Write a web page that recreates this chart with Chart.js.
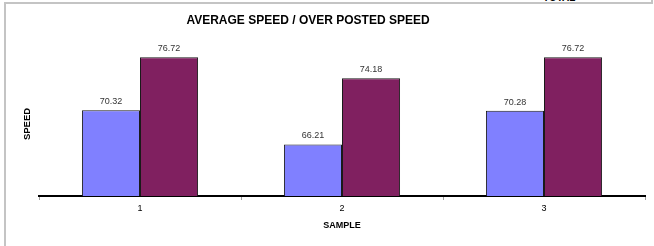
<!DOCTYPE html>
<html>
<head>
<meta charset="utf-8">
<script src="https://cdn.jsdelivr.net/npm/chart.js@4/dist/chart.umd.min.js"></script>
<style>
  html, body { margin: 0; padding: 0; background: #fff; }
  #wrap { position: relative; width: 654px; height: 246px; overflow: hidden; }
  #frame { position: absolute; left: 4px; top: 2px; width: 647px; height: 260px;
           border-top: 2px solid #c4c4c4; border-left: 2px solid #c4c4c4; }
  #rtick { position: absolute; left: 651px; top: 0; width: 2px; height: 4px; background: #c4c4c4; }
  #total { position: absolute; left: 543px; top: -7px; font: bold 10px Arial, "Liberation Sans", sans-serif;
           line-height: 10px; color: #000; }
  canvas { position: absolute; left: 0; top: 0; }
</style>
</head>
<body>
<div id="wrap">
  <div id="frame"></div>
  <div id="rtick"></div>
  <div id="total">TOTAL</div>
  <canvas id="chart" width="654" height="246"></canvas>
</div>
<script>
const chartTitle = 'AVERAGE SPEED / OVER POSTED SPEED';
const xTitle = 'SAMPLE';
const yTitle = 'SPEED';
const samples = ['1', '2', '3'];
const averageSpeed = [70.32, 66.21, 70.28];
const overPostedSpeed = [76.72, 74.18, 76.72];
const yMin = 60;
const yMax = 80;

const font = 'Arial, "Liberation Sans", sans-serif';

// titles and value labels drawn on top of the chart
const textPlugin = {
    id: 'textPlugin',
    afterDatasetsDraw(chart) {
        const ctx = chart.ctx;
        ctx.save();
        ctx.fillStyle = '#333';
        ctx.font = '9px ' + font;
        ctx.textAlign = 'center';
        ctx.textBaseline = 'alphabetic';
        chart.data.datasets.forEach((ds, i) => {
            chart.getDatasetMeta(i).data.forEach((bar, j) => {
                ctx.fillText(ds.data[j].toFixed(2), bar.x, bar.y - 6);
            });
        });

        ctx.fillStyle = '#000';
        ctx.font = 'bold 12px ' + font;
        ctx.textBaseline = 'middle';
        ctx.fillText(chartTitle, 308, 21);

        ctx.font = 'bold 9.5px ' + font;
        ctx.translate(27, 124);
        ctx.rotate(-Math.PI / 2);
        ctx.fillText(yTitle, 0, 0);
        ctx.restore();
    }
};

const ctx = document.getElementById('chart').getContext('2d');

new Chart(ctx, {
    type: 'bar',
    data: {
        labels: samples,
        datasets: [{
            label: 'Average speed',
            data: averageSpeed,
            backgroundColor: '#8080ff',
            borderColor: '#1a1a1a',
            borderWidth: 1,
            borderSkipped: 'bottom'
        }, {
            label: 'Over posted speed',
            data: overPostedSpeed,
            backgroundColor: '#802060',
            borderColor: '#1a1a1a',
            borderWidth: 1,
            borderSkipped: 'bottom'
        }]
    },
    options: {
        responsive: false,
        animation: false,
        layout: {
            padding: { left: 39, right: 9, top: 30, bottom: 0 }
        },
        plugins: {
            legend: { display: false },
            title: { display: false },
            tooltip: { enabled: false }
        },
        datasets: {
            bar: { categoryPercentage: 0.575, barPercentage: 1 }
        },
        scales: {
            x: {
                grid: {
                    offset: true,
                    drawOnChartArea: false,
                    drawTicks: true,
                    tickLength: 4,
                    color: '#a0a0a0'
                },
                border: { display: true, color: '#000', width: 2 },
                ticks: {
                    color: '#000',
                    padding: 3,
                    font: { size: 9, family: font }
                },
                title: {
                    display: true,
                    text: xTitle,
                    color: '#000',
                    font: { size: 9, weight: 'bold', family: font },
                    padding: { top: 0, bottom: 15 }
                },
                afterFit(scale) { scale.height = 50; }
            },
            y: {
                display: false,
                min: yMin,
                max: yMax
            }
        }
    },
    plugins: [textPlugin]
});
</script>
</body>
</html>
